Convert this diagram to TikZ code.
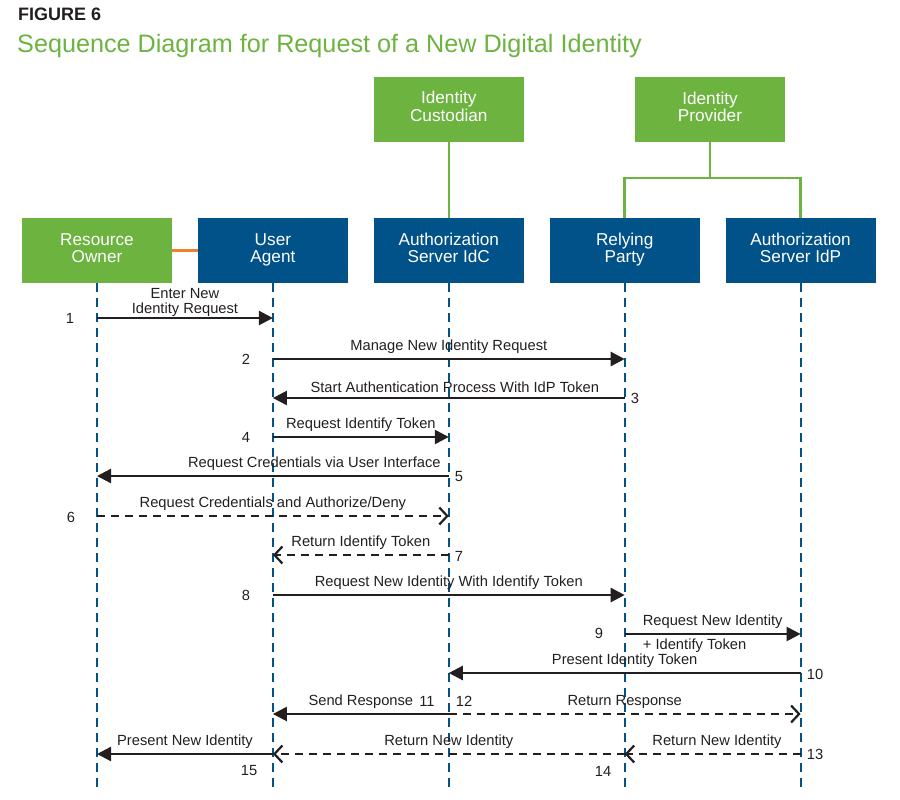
\documentclass[tikz,border=0pt]{standalone}
\usepackage{fontspec}
\setmainfont{Liberation Sans}
\usepackage{xcolor}
\usepackage{tikz}
\usetikzlibrary{arrows.meta,positioning}

\definecolor{idgreen}{RGB}{108,179,63}
\definecolor{idblue}{RGB}{0,82,136}
\definecolor{idorange}{RGB}{240,128,48}
\definecolor{idtext}{RGB}{35,31,32}

\tikzset{
  actor/.style={minimum width=150pt, minimum height=65pt, inner sep=0pt,
    text=white, align=center, font=\fontsize{17.2}{17.5}\selectfont,
    execute at begin node=\strut, execute at end node=\strut},
  greenbox/.style={actor, fill=idgreen},
  bluebox/.style={actor, fill=idblue},
  lifeline/.style={idblue, line width=2pt, dash pattern=on 9pt off 6pt},
  link/.style={idgreen, line width=2.5pt},
  msg/.style={idtext, line width=2.4pt, -{Triangle[length=14pt,width=14pt]}},
  reply/.style={idtext, line width=2.2pt, dash pattern=on 8pt off 6pt,
    -{Straight Barb[length=8pt,width=17pt,line width=2.2pt]}},
  lbl/.style={text=idtext, inner sep=1pt, font=\fontsize{14.7}{15}\selectfont},
}

\begin{document}
\begin{tikzpicture}[x=1pt, y=-1pt]
\useasboundingbox (0,0) rectangle (900,800);

% heading
\node[anchor=base west, inner sep=0pt, text=idtext, font=\bfseries\fontsize{18}{20}\selectfont] (fig) at (18,21) {FIGURE 6};
\node[anchor=base west, inner sep=0pt, text=idgreen, font=\fontsize{25.2}{27}\selectfont] (title) at (17,53) {Sequence Diagram for Request of a New Digital Identity};

% participants
\node[greenbox] (ro) at (97,250.5) {Resource\\Owner};
\node[bluebox, right=25.5pt of ro] (ua) {User\\Agent};
\node[bluebox, right=25.5pt of ua] (idc) {Authorization\\Server IdC};
\node[bluebox, right=25.5pt of idc] (rp) {Relying\\Party};
\node[bluebox, right=25.5pt of rp] (idp) {Authorization\\Server IdP};
\node[greenbox, above=76pt of idc] (cust) {Identity\\Custodian};
\node[greenbox] (prov) at (710,109.5) {Identity\\Provider};

\draw[idorange, line width=3pt] (ro) -- (ua);
\draw[link] (cust) -- (idc);
\draw[link] (prov.south) -- ++(0,36) coordinate (fork) -| (rp.north);
\draw[link] (fork) -| (idp.north);

% lifelines
\coordinate (bottom) at (0,790);
\foreach \p in {ro,ua,idc,rp,idp}
  \draw[lifeline] (\p.south) -- (\p |- bottom);

% message rows
\foreach \i/\y in {1/318,2/359,3/398,4/437,5/476,6/516,7/555,8/595,9/634,10/673,11/714,12/754}
  \coordinate (r\i) at (0,\y);

\draw[msg] (ro |- r1) -- (ua |- r1) node[lbl, midway, above=-1pt, align=center] {Enter New\\Identity Request};
\draw[msg] (ua |- r2) -- (rp |- r2) node[lbl, midway, above=3.5pt] {Manage New Identity Request};
\draw[msg] (rp |- r3) -- (ua |- r3) node[lbl, midway, above=3.5pt, xshift=6pt] {Start Authentication Process With IdP Token};
\draw[msg] (ua |- r4) -- (idc |- r4) node[lbl, midway, above=3.5pt] {Request Identify Token};
\draw[msg] (idc |- r5) -- (ro |- r5) node[lbl, pos=0, above=3.5pt, anchor=south east, xshift=-6pt] {Request Credentials via User Interface};
\draw[reply] (ro |- r6) -- (idc |- r6) node[lbl, midway, above=3.5pt] {Request Credentials and Authorize/Deny};
\draw[reply] (idc |- r7) -- (ua |- r7) node[lbl, midway, above=3.5pt] {Return Identify Token};
\draw[msg] (ua |- r8) -- (rp |- r8) node[lbl, midway, above=3.5pt] {Request New Identity With Identify Token};
\draw[msg] (rp |- r9) -- (idp |- r9)
  node[lbl, midway, above=3pt] {Request New Identity}
  node[lbl, pos=0, below=3pt, anchor=north west, xshift=16pt] {+ Identify Token};
\draw[msg] (idp |- r10) -- (idc |- r10) node[lbl, midway, above=3.5pt] {Present Identity Token};
\draw[msg] (idc |- r11) -- (ua |- r11) node[lbl, midway, above=3.5pt] {Send Response};
\draw[reply] (idc |- r11) -- (idp |- r11) node[lbl, midway, above=3.5pt] {Return Response};
\draw[reply] (idp |- r12) -- (rp |- r12) node[lbl, pos=0, above=3.5pt, anchor=south east, xshift=-17pt] {Return New Identity};
\draw[reply] (rp |- r12) -- (ua |- r12) node[lbl, midway, above=3.5pt] {Return New Identity};
\draw[msg] (ua |- r12) -- (ro |- r12) node[lbl, midway, above=3.5pt] {Present New Identity};

% step numbers
\foreach \t/\x/\y in {1/70/318, 2/246/359, 3/635/398, 4/246/437, 5/459/477, 6/71/517,
    7/459/556, 8/246/595, 9/599/633, 10/815/674, 11/427/701, 12/464/701,
    13/815/754, 14/603/771, 15/249/771}
  \node[lbl] (n\t) at (\x,\y) {\t};
\end{tikzpicture}
\end{document}
